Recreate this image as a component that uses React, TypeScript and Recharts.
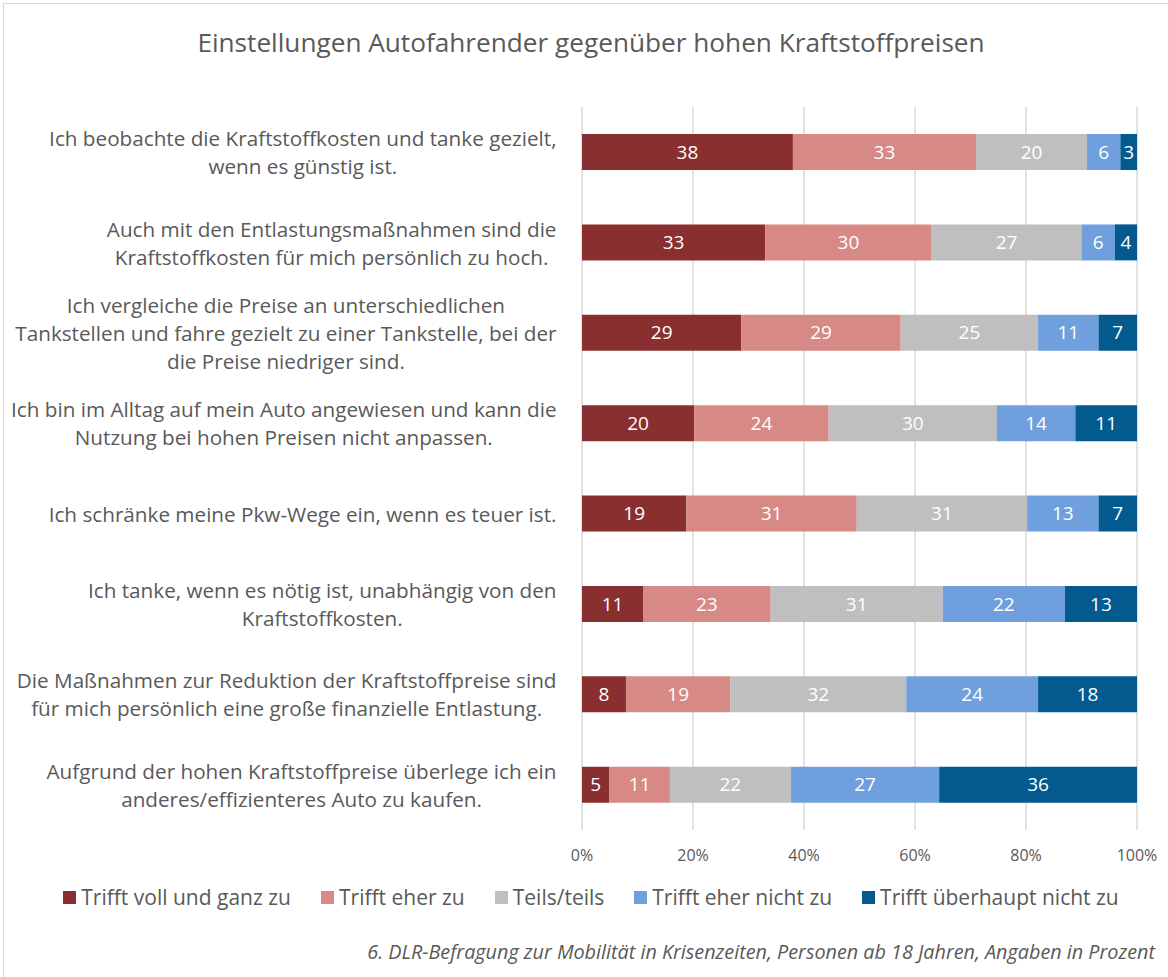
import React from "react";
import { BarChart, Bar, XAxis, YAxis, CartesianGrid, LabelList } from "recharts";

const categories: string[][] = [
  ["Ich beobachte die Kraftstoffkosten und tanke gezielt,", "wenn es günstig ist."],
  ["Auch mit den Entlastungsmaßnahmen sind die", "Kraftstoffkosten für mich persönlich zu hoch."],
  ["Ich vergleiche die Preise an unterschiedlichen", "Tankstellen und fahre gezielt zu einer Tankstelle, bei der", "die Preise niedriger sind."],
  ["Ich bin im Alltag auf mein Auto angewiesen und kann die", "Nutzung bei hohen Preisen nicht anpassen."],
  ["Ich schränke meine Pkw-Wege ein, wenn es teuer ist."],
  ["Ich tanke, wenn es nötig ist, unabhängig von den", "Kraftstoffkosten."],
  ["Die Maßnahmen zur Reduktion der Kraftstoffpreise sind", "für mich persönlich eine große finanzielle Entlastung."],
  ["Aufgrund der hohen Kraftstoffpreise überlege ich ein", "anderes/effizienteres Auto zu kaufen."],
];

const trifftVoll = [38, 33, 29, 20, 19, 11, 8, 5];
const trifftEher = [33, 30, 29, 24, 31, 23, 19, 11];
const teilsTeils = [20, 27, 25, 30, 31, 31, 32, 22];
const eherNicht = [6, 6, 11, 14, 13, 22, 24, 27];
const ueberhauptNicht = [3, 4, 7, 11, 7, 13, 18, 36];

const seriesNames = [
  "Trifft voll und ganz zu",
  "Trifft eher zu",
  "Teils/teils",
  "Trifft eher nicht zu",
  "Trifft überhaupt nicht zu",
];
const seriesKeys = ["s1", "s2", "s3", "s4", "s5"];
const seriesColors = ["#892F2F", "#D78986", "#BFBFBF", "#6F9FDC", "#035A8F"];
const xTicks = [0, 0.2, 0.4, 0.6, 0.8, 1];

const data = categories.map((lines, i) => ({
  name: lines.join("\n"),
  s1: trifftVoll[i],
  s2: trifftEher[i],
  s3: teilsTeils[i],
  s4: eherNicht[i],
  s5: ueberhauptNicht[i],
}));

const FONT = "'Open Sans', Lato, sans-serif";
const TEXT_GRAY = "#595959";
const LABEL_RIGHT = 556.5;
const LABEL_SIZE = 20.7;

let measureCtx: CanvasRenderingContext2D | null = null;
function textWidth(s: string): number {
  if (typeof document === "undefined") return s.length * LABEL_SIZE * 0.5;
  if (!measureCtx) {
    const c = document.createElement("canvas");
    measureCtx = c.getContext("2d");
  }
  if (!measureCtx) return s.length * LABEL_SIZE * 0.5;
  measureCtx.font = `${LABEL_SIZE}px 'Open Sans', Lato, sans-serif`;
  return measureCtx.measureText(s).width;
}

const CategoryTick = (props: any) => {
  const { y, payload } = props;
  const lines: string[] = String(payload.value).split("\n");
  const maxW = Math.max(...lines.map(textWidth));
  const cx = LABEL_RIGHT - maxW / 2;
  const lh = 28;
  const start = y - ((lines.length - 1) * lh) / 2;
  return (
    <text
      x={cx}
      y={start}
      textAnchor="middle"
      fill={TEXT_GRAY}
      fontSize={LABEL_SIZE}
      fontFamily={FONT}
      dominantBaseline="central"
    >
      {lines.map((l, i) => (
        <tspan key={i} x={cx} y={start + i * lh} dominantBaseline="central">
          {l}
        </tspan>
      ))}
    </text>
  );
};

export default function App() {
  return (
    <div
      style={{
        position: "absolute",
        left: 0,
        top: 0,
        width: 1168,
        height: 977,
        overflow: "hidden",
        background: "#fff",
        fontFamily: FONT,
      }}
    >
      <div
        style={{
          position: "absolute",
          left: 3,
          top: 3,
          width: 1300,
          height: 1100,
          border: "1.5px solid #D9D9D9",
        }}
      />
      <div
        style={{
          position: "absolute",
          left: 0,
          top: 24,
          width: 1182,
          textAlign: "center",
          fontSize: 26.2,
          color: TEXT_GRAY,
        }}
      >
        Einstellungen Autofahrender gegenüber hohen Kraftstoffpreisen
      </div>
      <div style={{ position: "absolute", left: 0, top: 0 }}>
        <BarChart
          width={1168}
          height={977}
          data={data}
          layout="vertical"
          stackOffset="expand"
          margin={{ top: 107, right: 31, bottom: 117, left: 0 }}
          barSize={36}
        >
          <CartesianGrid horizontal={false} stroke="#D9D9D9" strokeWidth={1.5} />
          <XAxis
            type="number"
            domain={[0, 1]}
            ticks={xTicks}
            tickFormatter={(v: number) => `${Math.round(v * 100)}%`}
            axisLine={false}
            tickLine={false}
            tick={{ fill: TEXT_GRAY, fontSize: 16, fontFamily: FONT }}
            tickMargin={14}
            interval={0}
          />
          <YAxis
            type="category"
            dataKey="name"
            width={582}
            axisLine={false}
            tickLine={false}
            tick={<CategoryTick />}
            interval={0}
          />
          {seriesKeys.map((k, i) => (
            <Bar
              key={k}
              dataKey={k}
              name={seriesNames[i]}
              stackId="a"
              fill={seriesColors[i]}
              isAnimationActive={false}
            >
              <LabelList
                dataKey={k}
                position="center"
                fill="#FFFFFF"
                fontSize={19}
                fontFamily={FONT}
              />
            </Bar>
          ))}
        </BarChart>
      </div>
      <div
        style={{
          position: "absolute",
          left: 0,
          top: 883,
          width: 1182,
          display: "flex",
          justifyContent: "center",
          gap: 30,
          fontSize: 21,
          color: TEXT_GRAY,
        }}
      >
        {seriesNames.map((n, i) => (
          <div key={n} style={{ display: "flex", alignItems: "center" }}>
            <span
              style={{
                display: "inline-block",
                width: 13,
                height: 13,
                background: seriesColors[i],
                marginRight: 5,
              }}
            />
            <span>{n}</span>
          </div>
        ))}
      </div>
      <div
        style={{
          position: "absolute",
          right: 13,
          top: 938,
          fontSize: 19.8,
          fontStyle: "italic",
          color: TEXT_GRAY,
        }}
      >
        6. DLR-Befragung zur Mobilität in Krisenzeiten, Personen ab 18 Jahren, Angaben in Prozent
      </div>
    </div>
  );
}
